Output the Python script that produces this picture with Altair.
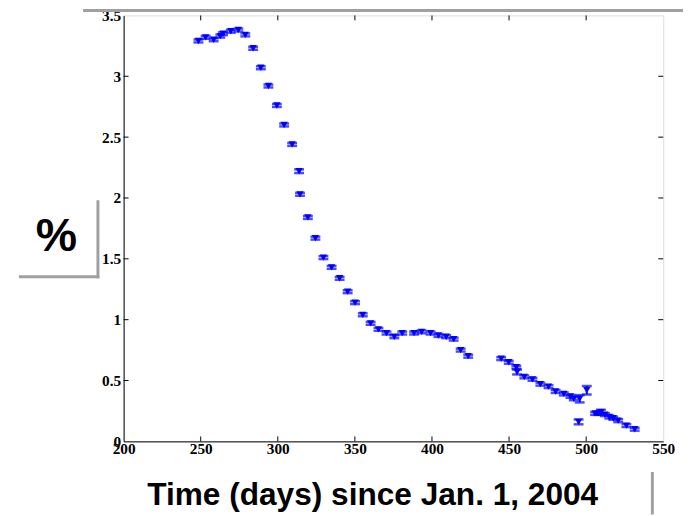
import altair as alt
import pandas as pd

days = [248.5, 253.2, 258.4, 262.7, 264.5, 269.5, 274.4, 278.9, 284.0, 289.0,
        293.9, 299.4, 304.1, 309.3, 313.8, 314.4, 319.5, 324.4, 329.6, 334.9,
        340.1, 345.3, 350.1, 355.1, 360.2, 365.3, 370.5, 375.6, 380.7, 388.4,
        393.3, 399.1, 404.2, 409.2, 414.1, 418.6, 423.5, 444.9, 449.8, 454.7,
        455.2, 459.9, 465.2, 470.3, 475.6, 480.2, 485.5, 489.8, 492.0, 495.8,
        495.1, 500.4, 505.8, 508.0, 509.6, 512.2, 515.0, 517.6, 520.8, 526.1,
        531.5]
values = [3.29, 3.32, 3.30, 3.33, 3.35, 3.37, 3.38, 3.34, 3.23, 3.07,
          2.92, 2.76, 2.60, 2.44, 2.22, 2.03, 1.84, 1.67, 1.51, 1.43,
          1.34, 1.23, 1.14, 1.04, 0.97, 0.92, 0.89, 0.86, 0.89, 0.89,
          0.90, 0.89, 0.87, 0.86, 0.84, 0.75, 0.70, 0.68, 0.65, 0.61,
          0.57, 0.53, 0.51, 0.47, 0.45, 0.41, 0.39, 0.37, 0.35, 0.35,
          0.16, 0.42, 0.23, 0.23, 0.24, 0.22, 0.20, 0.19, 0.17, 0.13,
          0.10]
errors = [0.012] * 14 + [0.015] + [0.012] * 25 + [0.02] + [0.012] * 8 + [0.03, 0.02, 0.035, 0.012, 0.012, 0.02] + [0.012] * 6

x_ticks = [250, 300, 350, 400, 450, 500]
y_ticks = [0.5, 1.0, 1.5, 2.0, 2.5, 3.0]
x_label_vals = [200, 250, 300, 350, 400, 450, 500, 550]
y_label_vals = [0, 0.5, 1, 1.5, 2, 2.5, 3, 3.5]

W, H = 546, 431
BLUE = "#0000ff"
GRAY = "#a0a0a0"

df = pd.DataFrame({"day": days, "val": values, "err": errors})
df["lo"] = df["val"] - df["err"]
df["hi"] = df["val"] + df["err"]

xs = alt.Scale(domain=[200, 550], nice=False, zero=False)
ys = alt.Scale(domain=[0, 3.5], nice=False, zero=False)

x_enc = alt.X("day:Q", scale=xs, title=None,
              axis=alt.Axis(values=x_label_vals, grid=False, tickSize=0, labelPadding=0,
                            labelFont="Liberation Serif", labelFontWeight="bold", labelFontSize=15.5,
                            labelColor="black", domainColor="black", labelFlush=False))
y_enc = alt.Y("val:Q", scale=ys, title=None,
              axis=alt.Axis(values=y_label_vals, grid=False, tickSize=0, labelPadding=3,
                            labelFont="Liberation Serif", labelFontWeight="bold", labelFontSize=15.5,
                            labelColor="black", domainColor="black", labelFlush=False,
                            labelExpr="'' + datum.value"))

base = alt.Chart(df)
bars = base.mark_rule(color=BLUE, strokeWidth=2).encode(
    x=alt.X("day:Q", scale=xs, title=None), y=alt.Y("lo:Q", scale=ys, title=None), y2="hi:Q")
cap_lo = base.mark_tick(color=BLUE, orient="horizontal", size=10, thickness=2.5).encode(
    x=alt.X("day:Q", scale=xs, title=None), y=alt.Y("lo:Q", scale=ys, title=None))
cap_hi = base.mark_tick(color=BLUE, orient="horizontal", size=10, thickness=2.5).encode(
    x=alt.X("day:Q", scale=xs, title=None), y=alt.Y("hi:Q", scale=ys, title=None))
pts = base.mark_point(shape="triangle-down", filled=True, size=55, color=BLUE, opacity=1).encode(
    x=x_enc, y=y_enc)

xt = alt.Chart(pd.DataFrame({"day": x_ticks}))
yt = alt.Chart(pd.DataFrame({"val": y_ticks}))
xb = xt.mark_rule(color="black").encode(x=alt.X("day:Q", scale=xs, title=None), y=alt.value(H), y2=alt.value(H - 5))
xtp = xt.mark_rule(color="black").encode(x=alt.X("day:Q", scale=xs, title=None), y=alt.value(0), y2=alt.value(5))
yl = yt.mark_rule(color="black").encode(y=alt.Y("val:Q", scale=ys, title=None), x=alt.value(0), x2=alt.value(5))
yr = yt.mark_rule(color="black").encode(y=alt.Y("val:Q", scale=ys, title=None), x=alt.value(W), x2=alt.value(W - 5))

one = alt.Chart(pd.DataFrame({"t": ["Time (days) since Jan. 1, 2004"], "p": ["%"]}))
top_line = one.mark_rule(color=GRAY, strokeWidth=3).encode(
    x=alt.value(-41), x2=alt.value(570), y=alt.value(-5))
br_v = one.mark_rule(color=GRAY, strokeWidth=3).encode(
    x=alt.value(-26), y=alt.value(187), y2=alt.value(266))
br_h = one.mark_rule(color=GRAY, strokeWidth=3).encode(
    x=alt.value(-106), x2=alt.value(-24.5), y=alt.value(264.5))
br_r = one.mark_rule(color=GRAY, strokeWidth=3).encode(
    x=alt.value(535), y=alt.value(462), y2=alt.value(505))
title = one.mark_text(font="Liberation Sans", fontWeight="bold", fontSize=32, color="black",
                      align="center", baseline="middle").encode(
    text="t:N", x=alt.value(252), y=alt.value(485))
pct = one.mark_text(font="Liberation Sans", fontWeight="bold", fontSize=47, color="black",
                    align="center", baseline="middle").encode(
    text="p:N", x=alt.value(-68), y=alt.value(224))

chart = alt.layer(bars, cap_lo, cap_hi, pts, xb, xtp, yl, yr,
                  top_line, br_v, br_h, br_r, title, pct).properties(
    width=W, height=H,
    autosize=alt.AutoSizeParams(type="none"),
    padding={"left": 117, "top": 4.5, "right": 20, "bottom": 73},
).configure_view(stroke="black", strokeWidth=1.2).configure(background="white")

chart.save("out.html", embed_options={"renderer": "svg", "actions": False})
